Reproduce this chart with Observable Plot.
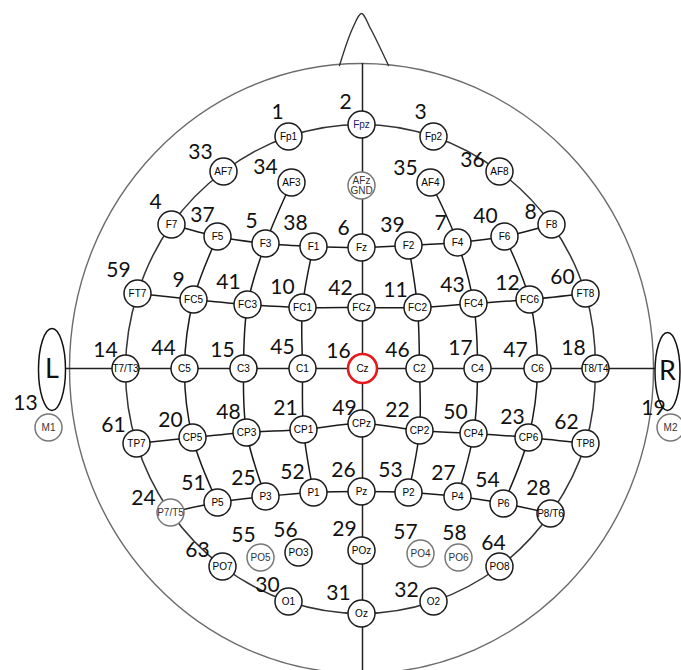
<!DOCTYPE html>
<html><head><meta charset="utf-8">
<script src="https://cdn.jsdelivr.net/npm/d3@7"></script>
<script src="https://cdn.jsdelivr.net/npm/@observablehq/plot@0.6"></script>
<style>body{margin:0;background:#fff}#chart svg{display:block}</style>
</head><body><div id="chart"></div>
<script>
// Electrode names in order of their channel numbers (last one, AFz/GND, has no number)
const electrodes = ["Fp1","Fpz","Fp2","F7","F3","Fz","F4","F8","FC5","FC1","FC2","FC6","M1","T7/T3","C3","Cz","C4","T8/T4","M2","CP5","CP1","CP2","CP6","P7/T5","P3","Pz","P4","P8/T6","POz","O1","Oz","O2","AF7","AF3","AF4","AF8","F5","F1","F2","F6","FC3","FCz","FC4","C5","C1","C2","C6","CP3","CPz","CP4","P5","P1","P2","P6","PO5","PO3","PO4","PO6","FT7","FT8","TP7","TP8","PO7","PO8","AFz\nGND"];
const channelNumbers = [1,2,3,4,5,6,7,8,9,10,11,12,13,14,15,16,17,18,19,20,21,22,23,24,25,26,27,28,29,30,31,32,33,34,35,36,37,38,39,40,41,42,43,44,45,46,47,48,49,50,51,52,53,54,55,56,57,58,59,60,61,62,63,64,null];
// Electrode coordinates on the layout (image coordinate system)
const electrodeX = [288,361,433,171,265,361,457,551,193,302,417,529,48,125,243,362,477,595,670,192,303,419,528,170,265,361,457,550,361,288,361,433,223,291,430,499,217,313,408,504,247,361,473,184,302,419,537,246,361,473,217,313,408,503,260,298,420,458,137,585,136,585,222,499,361];
const electrodeY = [136,124,136,224,243,247,242,224,299,307,307,299,427,368,368,368,368,368,427,437,429,430,437,512,496,491,496,513,550,601,613,601,171,182,182,171,236,246,245,236,304,307,303,368,368,368,368,432,423,433,502,492,492,503,557,552,553,557,293,293,443,443,566,566,185];
// Channel number label coordinates
const numberX = [277,345,420,155,251,343,440,530,178,282,395,507,25,105,222,338,460,573,653,170,285,397,512,143,243,343,443,538,344,267,338,406,200,265,405,472,202,295,392,485,228,340,452,163,282,397,515,228,344,455,193,292,390,487,243,285,405,454,118,562,113,566,197,493,null];
const numberY = [112,102,112,202,221,228,223,212,280,287,290,283,403,350,350,351,348,348,408,420,408,410,417,498,478,470,473,488,529,585,593,590,152,167,168,160,215,223,225,216,282,288,285,348,347,350,350,412,408,412,483,472,470,480,535,530,532,533,270,277,425,422,550,543,null];
const faintElectrodes = ["AFz\nGND","M1","M2","PO5","PO4","PO6","P7/T5"];
const referenceElectrode = "Cz";

// Connection paths
const ringPath = ["Fp1","Fpz","Fp2","AF8","F8","FT8","T8/T4","TP8","P8/T6","PO8","O2","Oz","O1","PO7","P7/T5","TP7","T7/T3","FT7","F7","AF7"];
const rowPaths = [
  ["F7","F5","F3","F1","Fz","F2","F4","F6","F8"],
  ["FT7","FC5","FC3","FC1","FCz","FC2","FC4","FC6","FT8"],
  ["TP7","CP5","CP3","CP1","CPz","CP2","CP4","CP6","TP8"],
  ["P7/T5","P5","P3","P1","Pz","P2","P4","P6","P8/T6"],
  ["AF3","F3","FC3","C3","CP3","P3"],
  ["F5","FC5","C5","CP5","P5"],
  ["F1","FC1","C1","CP1","P1"],
  ["F2","FC2","C2","CP2","P2"],
  ["F6","FC6","C6","CP6","P6"],
  ["AF4","F4","FC4","C4","CP4","P4"]
];

// Head geometry
const headCenter = [361, 368];
const headRadii = [292, 305];
const noseX = [339, 352, 361, 370, 388];
const noseY = [65, 28, 13, 28, 65];
const earLabels = ["L", "R"];
const earX = [51.5, 667];
const earY = [369, 371];
const earRx = [13.5, 12.5];
const earRy = [41, 39];
const midlineY = [63, 670];
const horizonX = [40, 675];

const table = electrodes.map((name, i) => ({
  name, n: channelNumbers[i], x: electrodeX[i], y: electrodeY[i],
  lx: numberX[i], ly: numberY[i], faint: faintElectrodes.includes(name)
}));
const byName = new Map(table.map(d => [d.name, d]));
const ringData = ringPath.map(n => byName.get(n));
const rowData = rowPaths.flatMap((p, k) => p.map(n => ({...byName.get(n), k})));
const noseData = noseX.map((x, i) => ({x, y: noseY[i]}));
const ears = earLabels.map((label, i) => ({label, x: earX[i], y: earY[i], rx: earRx[i], ry: earRy[i]}));

function ellipseSymbol(rx, ry) {
  const k = 0.5523;
  return {draw(c) {
    c.moveTo(rx, 0);
    c.bezierCurveTo(rx, k*ry, k*rx, ry, 0, ry);
    c.bezierCurveTo(-k*rx, ry, -rx, k*ry, -rx, 0);
    c.bezierCurveTo(-rx, -k*ry, -k*rx, -ry, 0, -ry);
    c.bezierCurveTo(k*rx, -ry, rx, -k*ry, rx, 0);
    c.closePath();
  }};
}

const cz = byName.get(referenceElectrode);
const numbered = table.filter(d => d.n != null);

const chart = Plot.plot({
  width: 681, height: 670, margin: 0,
  x: {domain: [0, 681], range: [0, 681], axis: null},
  y: {domain: [0, 670], range: [0, 670], axis: null},
  style: {background: "#fff"},
  marks: [
    // head outline
    Plot.dot([headCenter], {x: d => d[0], y: d => d[1], r: 10, symbol: ellipseSymbol(headRadii[0], headRadii[1]), fill: "none", stroke: "#6b6b6b", strokeWidth: 1.4}),
    // nose
    Plot.line(noseData, {x: "x", y: "y", curve: "catmull-rom", stroke: "#333", strokeWidth: 1.4}),
    // midlines
    Plot.ruleX([cz], {x: "x", y1: midlineY[0], y2: midlineY[1], stroke: "#222", strokeWidth: 1.5}),
    Plot.ruleY([cz], {y: "y", x1: horizonX[0], x2: horizonX[1], stroke: "#222", strokeWidth: 1.5}),
    // electrode ring
    Plot.line(ringData, {x: "x", y: "y", curve: "catmull-rom-closed", stroke: "#333", strokeWidth: 1.5}),
    // rows and columns
    Plot.line(rowData, {x: "x", y: "y", z: "k", curve: "catmull-rom", stroke: "#1a1a1a", strokeWidth: 1.5}),
    // ears
    ...ears.map(e => Plot.dot([e], {x: "x", y: "y", r: 10, symbol: ellipseSymbol(e.rx, e.ry), fill: "#fff", stroke: "#111", strokeWidth: 1.5})),
    Plot.text(ears, {x: "x", y: "y", text: "label", fontSize: 27, fontFamily: "Lato, 'Open Sans', sans-serif", fill: "#111"}),
    // electrodes
    Plot.dot(table.filter(d => d.name !== referenceElectrode), {x: "x", y: "y", r: 13.5, fill: "#fff", stroke: d => d.faint ? "#777" : "#1a1a1a", strokeWidth: 1.5}),
    Plot.dot([cz], {x: "x", y: "y", r: 14.5, fill: "#fff", stroke: "#e41a1c", strokeWidth: 2.6}),
    Plot.text(table, {x: "x", y: "y", text: "name", fontSize: 10, lineHeight: 1.0, fontFamily: "'Liberation Sans Narrow', 'Liberation Sans', Arial, sans-serif", letterSpacing: "-0.4px", fill: d => d.name === "Fpz" ? "#1a1a66" : (d.faint ? "#333" : "#000")}),
    // channel numbers
    Plot.text(numbered, {x: "lx", y: "ly", text: d => String(d.n), fontSize: 21, fontFamily: "Lato, 'Open Sans', sans-serif", fill: "#111"})
  ]
});
document.getElementById("chart").append(chart);
</script>
</body></html>
